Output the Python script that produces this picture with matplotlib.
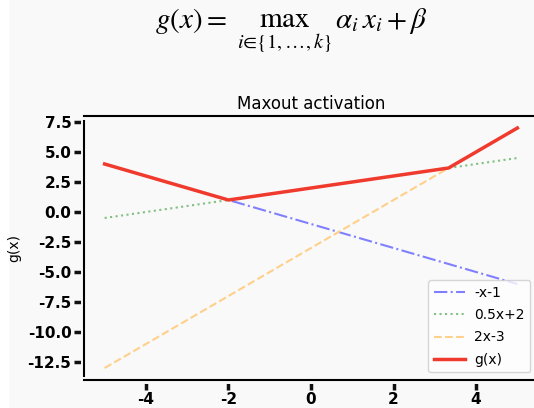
import matplotlib
matplotlib.use("Agg")
import matplotlib.pyplot as plt
import matplotlib.patheffects as pe
from matplotlib.patches import Rectangle

# values
x_neg = [-5, 5]
y_neg = [4, -6]            # -x-1
x_half = [-5, 5]
y_half = [-0.5, 4.5]       # 0.5x+2
x_two = [-5, 5]
y_two = [-13, 7]           # 2x-3
x_g = [-5, -2, 3.333, 5]
y_g = [4, 1, 3.667, 7]     # g(x) = max of the three
labels = ["-x-1", "0.5x+2", "2x-3", "g(x)"]
xticks = [-4, -2, 0, 2, 4]
yticks = [7.5, 5.0, 2.5, 0.0, -2.5, -5.0, -7.5, -10.0, -12.5]

plt.rcParams['font.family'] = ['DejaVu Sans']
plt.rcParams['mathtext.fontset'] = 'stix'
plt.rcParams['axes.unicode_minus'] = False

fig = plt.figure(figsize=(5.34, 4.08), dpi=100, facecolor='white')
fig.patches.append(Rectangle((9 / 534, 0), 1, 1, transform=fig.transFigure,
                             facecolor='#f9f9f9', edgecolor='none', zorder=-10))

ax = fig.add_axes([84 / 534, 28 / 408, 454 / 534, 264 / 408])
ax.set_facecolor('#f9f9f9')

ax.plot(x_neg, y_neg, color='#8080ff', ls='-.', lw=1.5, label=labels[0])
ax.plot(x_half, y_half, color='#80c080', ls=':', lw=1.5, label=labels[1])
ax.plot(x_two, y_two, color='#ffd08a', ls='--', lw=1.5, label=labels[2])
ax.plot(x_g, y_g, color='#f03a2e', ls='-', lw=2.5, label=labels[3])

ax.set_xticks(xticks)
ax.set_xticklabels([str(t) for t in xticks])
ax.set_yticks(yticks)
ax.set_yticklabels([f"{t:.1f}" for t in yticks])
ax.tick_params(axis='both', length=7, width=2.5, labelsize=11, pad=2, color='#111111')
for lab in ax.get_xticklabels() + ax.get_yticklabels():
    lab.set_fontweight('bold')

for sp in ax.spines.values():
    sp.set_linewidth(1.5)
    sp.set_path_effects([pe.withStroke(linewidth=5, foreground='#f9f9f9')])
for tl in ax.xaxis.get_ticklines() + ax.yaxis.get_ticklines():
    tl.set_zorder(1)

ax.set_title("Maxout activation", fontsize=12, pad=5)
ax.set_ylabel("g(x)", fontsize=10)
ax.yaxis.set_label_coords(-0.138, 0.5)

leg = ax.legend(loc='lower right', fontsize=10, frameon=True, handlelength=2.2,
                borderaxespad=0.55, labelspacing=0.6, handletextpad=0.7)
leg.get_frame().set_edgecolor('#cccccc')
leg.get_frame().set_facecolor('white')

fig.text(0.545, 0.985, r'$g(x) =\ \max_{i\in\{1,\ldots,k\}}\,\alpha_i x_i + \beta$',
         fontsize=21, ha='center', va='top')

fig.savefig("out.png", dpi=100, facecolor=fig.get_facecolor())
